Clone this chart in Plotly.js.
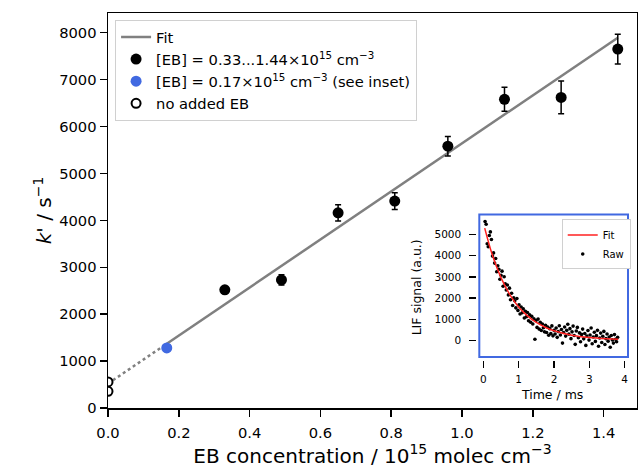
<!DOCTYPE html>
<html>
<head>
<meta charset="utf-8">
<script src="https://cdn.plot.ly/plotly-3.0.1.min.js"></script>
<style>html,body{margin:0;padding:0;background:#fff;}#chart{width:638px;height:475px;}</style>
</head>
<body>
<div id="chart"></div>
<script>
// ---- main data ----
const ebConc = [0.33, 0.49, 0.65, 0.81, 0.96, 1.12, 1.28, 1.44];
const kPrime = [2520, 2730, 4160, 4410, 5580, 6580, 6620, 7650];
const kErr = [60, 110, 175, 180, 210, 256, 348, 316];
const ebInset = [0.166];
const kInset = [1280];
const ebNone = [0, 0];
const kNone = [555, 356];
const fitSlope = 5120;
const fitIntercept = 520;
const fitRange = [0.166, 1.44];
const extrapRange = [0, 0.166];

// ---- inset data ----
const timeMs = [0.05,0.08,0.11,0.14,0.17,0.20,0.23,0.26,0.29,0.32,0.35,0.38,0.41,0.44,0.47,0.50,0.53,0.56,0.59,0.62,0.65,0.68,0.71,0.74,0.77,0.80,0.83,0.86,0.89,0.92,0.95,0.98,1.01,1.04,1.07,1.10,1.13,1.16,1.19,1.22,1.25,1.28,1.31,1.34,1.37,1.40,1.43,1.46,1.49,1.52,1.55,1.58,1.61,1.64,1.67,1.70,1.73,1.76,1.79,1.82,1.85,1.88,1.91,1.94,1.97,2.00,2.03,2.06,2.09,2.12,2.15,2.18,2.21,2.24,2.27,2.30,2.33,2.36,2.39,2.42,2.45,2.48,2.51,2.54,2.57,2.60,2.63,2.66,2.69,2.72,2.75,2.78,2.81,2.84,2.87,2.90,2.93,2.96,2.99,3.02,3.05,3.08,3.11,3.14,3.17,3.20,3.23,3.26,3.29,3.32,3.35,3.38,3.41,3.44,3.47,3.50,3.53,3.56,3.59,3.62,3.65,3.68,3.71,3.74,3.77,3.80];
const lifRaw = [5610,5480,4560,4420,4950,5120,4760,3980,4130,3650,3870,3240,3520,3360,2890,3080,3270,2560,3010,2680,2380,2620,2150,2470,1920,2230,1650,2010,1870,1540,1980,1420,1690,1250,1580,1310,1490,1060,1380,1120,1320,930,1210,860,1140,780,1020,60,950,620,1010,540,860,470,780,600,410,720,380,640,250,560,330,690,220,480,310,590,150,420,700,260,520,-120,380,640,210,480,770,300,560,90,410,680,240,-180,450,620,130,360,-60,290,540,80,330,-230,210,470,20,260,590,-150,170,390,-40,230,480,-270,120,350,-90,200,430,-190,90,310,-30,170,-320,240,30,-120,280,60,-60,150];
const fitTime = [0.04,0.25,0.5,0.75,1.0,1.25,1.5,1.75,2.0,2.5,3.0,3.5,3.82];
const fitLif = [5300,4064,2967,2168,1585,1161,851,626,461,254,144,86,64];

const xTickVals = [0,0.2,0.4,0.6,0.8,1.0,1.2,1.4];
const yTickVals = [0,1000,2000,3000,4000,5000,6000,7000,8000];

const FONT = 'DejaVu Sans, Liberation Sans, sans-serif';
const lineY = xs => xs.map(x => fitIntercept + fitSlope * x);

const traces = [
  {x: extrapRange, y: lineY(extrapRange), mode: 'lines', line: {color: '#808080', width: 2.5, dash: 'dot'},
   showlegend: false, hoverinfo: 'skip', xaxis: 'x', yaxis: 'y'},
  {x: fitRange, y: lineY(fitRange), mode: 'lines', name: 'Fit', line: {color: '#808080', width: 2.5},
   legendrank: 1, xaxis: 'x', yaxis: 'y'},
  {x: ebConc, y: kPrime, mode: 'markers', name: '[EB] = 0.33...1.44×10<sup>15</sup> cm<sup>−3</sup>',
   marker: {color: 'black', size: 11},
   error_y: {type: 'data', array: kErr, visible: true, color: 'black', thickness: 1.5, width: 3},
   legendrank: 2, xaxis: 'x', yaxis: 'y'},
  {x: ebInset, y: kInset, mode: 'markers', name: '[EB] = 0.17×10<sup>15</sup> cm<sup>−3</sup> (see inset)',
   marker: {color: '#4169E1', size: 11}, legendrank: 3, xaxis: 'x', yaxis: 'y'},
  {x: ebNone, y: kNone, mode: 'markers', name: 'no added EB',
   marker: {color: 'white', size: 9, line: {color: 'black', width: 2}}, legendrank: 4, xaxis: 'x', yaxis: 'y'},
  {x: timeMs, y: lifRaw, mode: 'markers', name: 'Raw', marker: {color: 'black', size: 3.6},
   legend: 'legend2', legendrank: 2, xaxis: 'x2', yaxis: 'y2'},
  {x: fitTime, y: fitLif, mode: 'lines', name: 'Fit', line: {color: '#ff2020', width: 1.5, shape: 'spline'},
   legend: 'legend2', legendrank: 1, xaxis: 'x2', yaxis: 'y2'}
];

const layout = {
  width: 638, height: 475,
  margin: {l: 108, r: 1, t: 13, b: 67.3},
  paper_bgcolor: 'white', plot_bgcolor: 'white',
  font: {family: FONT, color: 'black', size: 14.7},
  showlegend: true,
  xaxis: {
    range: [0, 1.4943], tickvals: xTickVals, tickformat: '.1f',
    showgrid: false, zeroline: false, showline: true, mirror: true, linecolor: 'black', linewidth: 1.5,
    ticks: 'outside', ticklen: 7, tickwidth: 1.5, tickcolor: 'black', ticklabelstandoff: 4,
    tickfont: {size: 14.7},
    title: {text: 'EB concentration / 10<sup>15</sup> molec cm<sup>−3</sup>', font: {size: 20}, standoff: 8}
  },
  yaxis: {
    range: [0, 8420], tickvals: yTickVals,
    showgrid: false, zeroline: false, showline: true, mirror: true, linecolor: 'black', linewidth: 1.5,
    ticks: 'outside', ticklen: 7, tickwidth: 1.5, tickcolor: 'black',
    tickfont: {size: 14.7},
    title: {text: "<i>k</i>' / s<sup>−1</sup>", font: {size: 20}, standoff: 2}
  },
  xaxis2: {
    domain: [0.6981, 0.9830], anchor: 'y2', range: [-0.170, 4.093], tickvals: [0,1,2,3,4],
    showgrid: false, zeroline: false, showline: false,
    ticks: 'outside', ticklen: 6.5, tickwidth: 1.5, tickcolor: 'black', ticklabelstandoff: 3,
    tickfont: {size: 10.5},
    title: {text: 'Time / ms', font: {size: 12.5}, standoff: 5}
  },
  yaxis2: {
    domain: [0.1209, 0.4900], anchor: 'x2', range: [-929, 5943], tickvals: [0,1000,2000,3000,4000,5000],
    showgrid: false, zeroline: false, showline: false,
    ticks: 'outside', ticklen: 7, tickwidth: 1.5, tickcolor: 'black', ticklabelstandoff: 6,
    tickfont: {size: 10.5},
    title: {text: 'LIF signal (a.u.)', font: {size: 12.5}, standoff: 10}
  },
  shapes: [
    {type: 'rect', xref: 'paper', yref: 'paper', x0: 0.7019, x1: 0.9830, y0: 0.1292, y1: 0.4900,
     line: {color: '#4169E1', width: 2}, fillcolor: 'rgba(255,255,255,0)', layer: 'above'}
  ],
  legend: {
    x: 0.013, y: 0.983, xanchor: 'left', yanchor: 'top',
    bgcolor: 'white', bordercolor: '#d0d0d0', borderwidth: 1.2,
    font: {size: 14.7, family: FONT}, tracegroupgap: 2, itemwidth: 30
  },
  legend2: {
    x: 0.8577, y: 0.4773, xanchor: 'left', yanchor: 'top',
    bgcolor: 'white', bordercolor: '#d0d0d0', borderwidth: 1,
    font: {size: 10, family: FONT}, itemwidth: 30
  }
};

Plotly.newPlot('chart', traces, layout, {displayModeBar: false, staticPlot: true});
</script>
</body>
</html>
